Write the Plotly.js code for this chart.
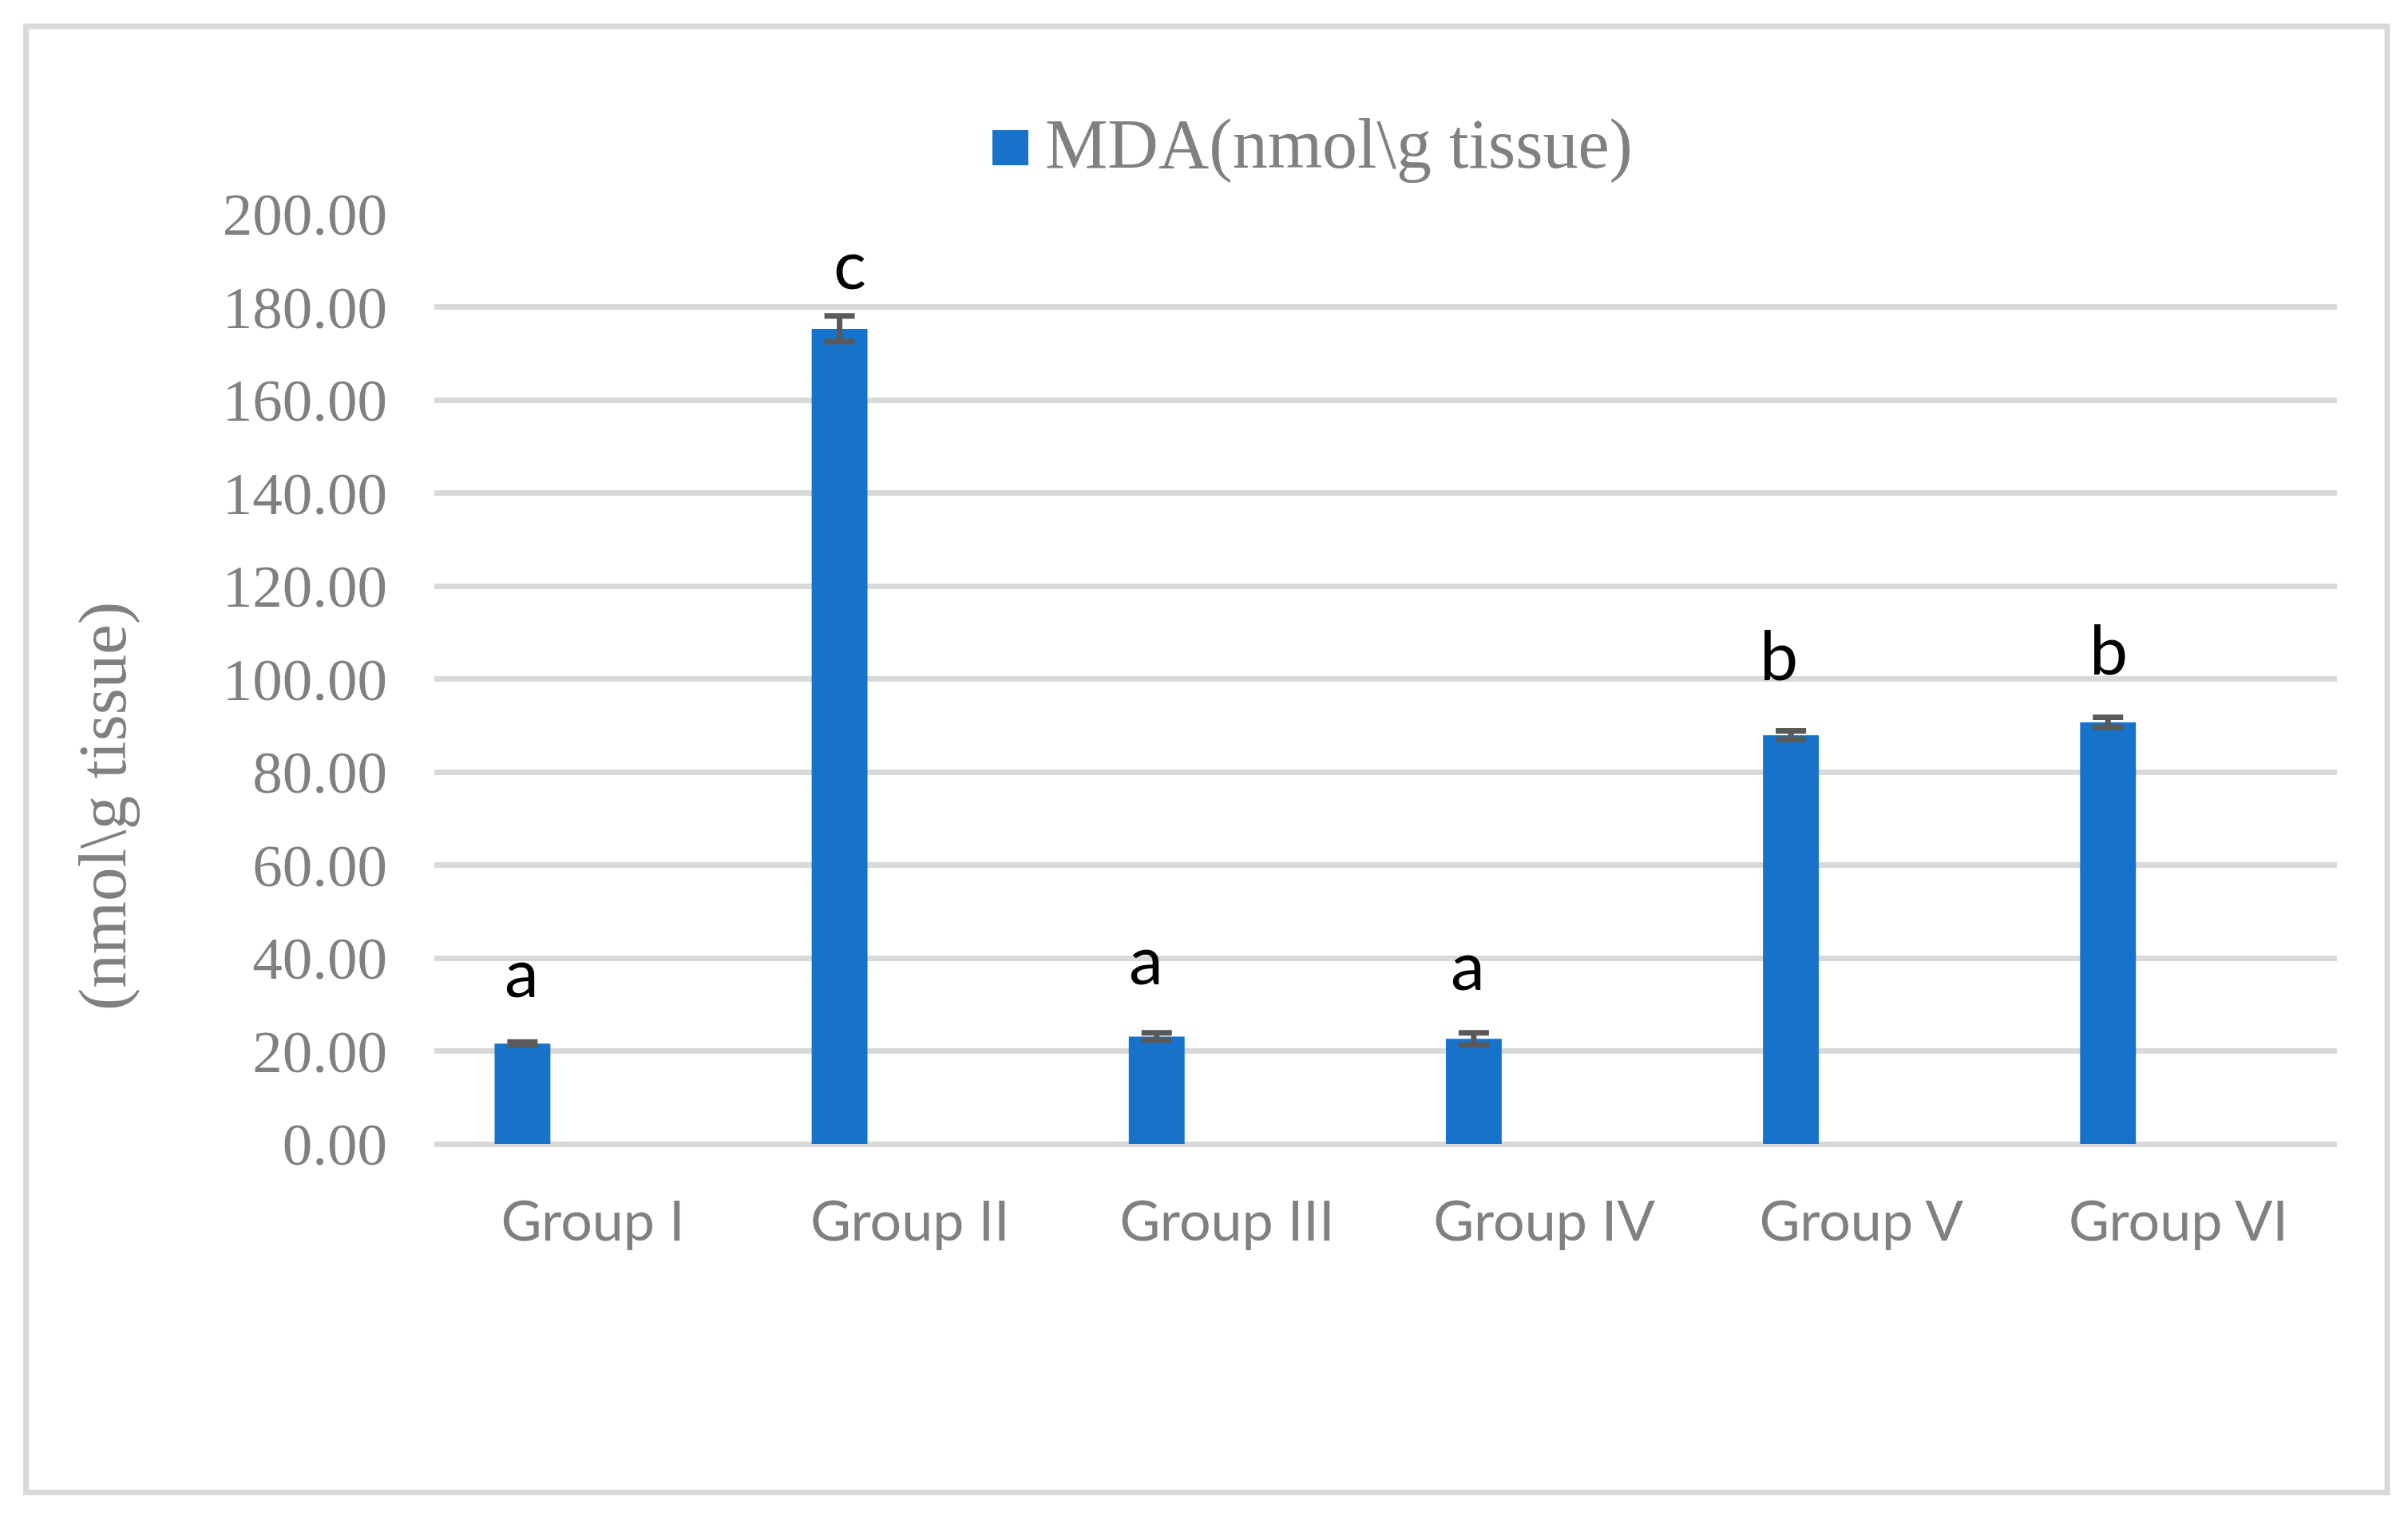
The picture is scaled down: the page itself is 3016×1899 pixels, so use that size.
<!DOCTYPE html>
<html>
<head>
<meta charset="utf-8">
<script src="https://cdn.plot.ly/plotly-3.0.1.min.js"></script>
<style>html,body{margin:0;padding:0;background:#fff;}#chart{width:3016px;height:1899px;}</style>
</head>
<body>
<div id="chart"></div>
<script>
// ---- data ----
var categories = ["Group I", "Group II", "Group III", "Group IV", "Group V", "Group VI"];
var mdaValues  = [21.6, 175.3, 23.1, 22.6, 87.9, 90.7];
var mdaErrors  = [0.35, 2.75, 0.8, 1.3, 0.92, 1.07];
var sigLetters = ["a", "c", "a", "a", "b", "b"];
var letterBaseline = [31.4, 183.7, 34.2, 33.0, 99.6, 100.8];
var letterDx = [-1, 13, -13, -7, -15, 1];
var seriesName = "MDA(nmol\\g tissue)";
var yTitle = "(nmol\\g tissue)";

// ---- layout geometry (pixels) ----
var W = 3016, H = 1899;
var L = 544, R = 2927, T = 268, B = 1433;
var pw = R - L, ph = B - T;
function px(x){ return (x - L) / pw; }
function py(y){ return (B - y) / ph; }
var catW = pw / categories.length;
var barOffset = -0.31, barWidth = 0.176;
var barCenterShift = (barOffset + barWidth / 2) * catW;

var gray = "#808080";
var serif = "Liberation Serif, Times New Roman, serif";
var sans = "Lato, Open Sans, sans-serif";

var trace = {
  type: "bar",
  x: categories,
  y: mdaValues,
  name: seriesName,
  offset: barOffset,
  width: barWidth,
  marker: {color: "#1773c9", line: {width: 0}},
  error_y: {type: "data", array: mdaErrors, visible: true, color: "#595959", thickness: 7, width: 19},
  showlegend: false,
  hoverinfo: "x+y"
};

var annotations = [];
for (var i = 0; i < categories.length; i++) {
  annotations.push({
    x: categories[i], y: letterBaseline[i], xref: "x", yref: "y",
    text: sigLetters[i], showarrow: false,
    xanchor: "center", yanchor: "bottom",
    xshift: barCenterShift + letterDx[i], yshift: -19,
    font: {family: sans, size: 86, color: "#000000"}
  });
}
// legend text
annotations.push({
  x: px(1307), y: py(181), xref: "paper", yref: "paper",
  text: seriesName, showarrow: false, xanchor: "left", yanchor: "middle",
  font: {family: serif, size: 88, color: gray}
});
// y-axis title
annotations.push({
  x: px(128), y: py(1010), xref: "paper", yref: "paper",
  text: yTitle, showarrow: false, textangle: -90,
  xanchor: "center", yanchor: "middle",
  font: {family: serif, size: 85, color: gray}
});

var shapes = [
  // outer chart border
  {type: "rect", xref: "paper", yref: "paper",
   x0: px(32.5), x1: px(2990), y0: py(1869.5), y1: py(33),
   line: {color: "#d9d9d9", width: 7}, fillcolor: "rgba(0,0,0,0)", layer: "below"},
  // legend swatch
  {type: "rect", xref: "paper", yref: "paper",
   x0: px(1243), x1: px(1288), y0: py(207), y1: py(163),
   line: {width: 0}, fillcolor: "#1773c9"}
];

var layout = {
  width: W, height: H,
  margin: {l: L, r: W - R, t: T, b: H - B, pad: 0},
  paper_bgcolor: "#ffffff", plot_bgcolor: "#ffffff",
  showlegend: false,
  xaxis: {
    type: "category",
    showgrid: false, zeroline: false, showline: false, ticks: "",
    tickfont: {family: sans, size: 70, color: gray},
    ticklabelstandoff: 50,
    fixedrange: true
  },
  yaxis: {
    range: [0, 200], dtick: 20, tick0: 0, tickformat: ".2f",
    showgrid: true, gridcolor: "#d9d9d9", gridwidth: 7,
    zeroline: true, zerolinecolor: "#d9d9d9", zerolinewidth: 7,
    showline: false, ticks: "",
    tickfont: {family: serif, size: 75, color: gray},
    ticklabelstandoff: 58,
    fixedrange: true
  },
  annotations: annotations,
  shapes: shapes
};

Plotly.newPlot("chart", [trace], layout, {displayModeBar: false, staticPlot: true});
</script>
</body>
</html>
